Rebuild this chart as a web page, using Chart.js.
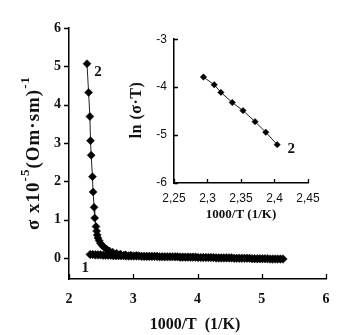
<!DOCTYPE html>
<html lang="en">
<head>
<meta charset="UTF-8">
<title>Conductivity vs 1000/T</title>
<script src="https://cdn.jsdelivr.net/npm/chart.js"></script>
<style>
  html, body { margin: 0; padding: 0; background: #fff; }
  #wrap { position: relative; width: 342px; height: 335px; }
  #mainChart { position: absolute; left: 0; top: 0; }
  #insetChart { position: absolute; left: 110px; top: 25px; }
</style>
</head>
<body>
<div id="wrap">
  <canvas id="mainChart" width="342" height="335"></canvas>
  <canvas id="insetChart" width="232" height="205"></canvas>
</div>
<script>
// curve 1: flat band, 1000/T vs sigma (x10^-5)
const curve1X = [2.33,2.37,2.41,2.45,2.49,2.53,2.57,2.61,2.65,2.69,
                 2.73,2.77,2.81,2.85,2.89,2.93,2.97,3.01,3.05,3.09,
                 3.13,3.17,3.21,3.25,3.29,3.33,3.37,3.41,3.45,3.49,
                 3.53,3.57,3.61,3.65,3.69,3.73,3.77,3.81,3.85,3.89,
                 3.93,3.97,4.01,4.05,4.09,4.13,4.17,4.21,4.25,4.29,
                 4.33,4.37,4.41,4.45,4.49,4.53,4.57,4.61,4.65,4.69,
                 4.73,4.77,4.81,4.85,4.89,4.93,4.97,5.01,5.05,5.09,
                 5.13,5.17,5.21,5.25,5.29,5.33];
const curve1Y = [0.09,0.09,0.08,0.08,0.08,0.07,0.07,0.07,0.07,0.06,
                 0.06,0.06,0.06,0.06,0.05,0.05,0.05,0.05,0.05,0.05,
                 0.04,0.04,0.04,0.04,0.04,0.04,0.04,0.03,0.03,0.03,
                 0.03,0.03,0.03,0.03,0.03,0.02,0.02,0.02,0.02,0.02,
                 0.02,0.02,0.01,0.01,0.01,0.01,0.01,0.01,0.01,0.00,
                 0.00,0.00,0.00,0.00,0.00,0.00,-0.01,-0.01,-0.01,-0.01,
                 -0.01,-0.01,-0.01,-0.02,-0.02,-0.02,-0.02,-0.02,-0.02,-0.02,
                 -0.03,-0.03,-0.03,-0.03,-0.03,-0.03];

// curve 2: steep drop then joins the band
const curve2X = [2.28,2.305,2.325,2.335,2.345,2.365,2.375,2.39,2.40,2.42,
                 2.43,2.44,2.45,2.47,2.49,2.52,2.55,2.59,2.63,2.68,
                 2.74,2.80,2.88,2.96,3.05];
const curve2Y = [5.07,4.32,3.69,3.06,2.68,2.12,1.72,1.32,1.04,0.82,
                 0.70,0.60,0.52,0.45,0.38,0.32,0.27,0.22,0.18,0.15,
                 0.12,0.10,0.08,0.07,0.06];

// inset: ln(sigma*T) for curve 2
const insetX = [2.294,2.310,2.320,2.337,2.353,2.371,2.387,2.404];
const insetY = [-3.79,-3.95,-4.11,-4.32,-4.49,-4.72,-4.94,-5.20];

const mainXTicks = [2, 3, 4, 5, 6];
const mainYTicks = [0, 1, 2, 3, 4, 5, 6];
const insetXTicks = [2.25, 2.3, 2.35, 2.4, 2.45];
const insetYTicks = [-6, -5, -4, -3];

const zip = (xs, ys) => xs.map((x, i) => ({ x: x, y: ys[i] }));

const ink = '#111';
const serifBold = (size) => ({ family: '"Liberation Serif", "DejaVu Serif", serif', size: size, weight: 'bold' });

function seriesStyle(r) {
  return {
    showLine: true,
    borderColor: '#222',
    borderWidth: 1,
    pointStyle: 'rectRot',
    pointRadius: r,
    pointBackgroundColor: '#000',
    pointBorderColor: '#000',
    pointBorderWidth: 0.5
  };
}

// tick marks drawn by hand so they can point in or out
function drawTicks(chart, xLen, yLen) {
  const { ctx, scales: { x, y } } = chart;
  ctx.save();
  ctx.strokeStyle = '#000';
  ctx.lineWidth = 1.3;
  ctx.beginPath();
  x.ticks.forEach(t => {
    const px = Math.round(x.getPixelForValue(t.value)) + 0.5;
    ctx.moveTo(px, y.bottom);
    ctx.lineTo(px, y.bottom + xLen);
  });
  y.ticks.forEach(t => {
    const py = Math.round(y.getPixelForValue(t.value)) + 0.5;
    ctx.moveTo(x.left, py);
    ctx.lineTo(x.left + yLen, py);
  });
  ctx.stroke();
  ctx.restore();
}

// rotated title with superscript parts
function drawRotatedTitle(ctx, cx, cy, parts, bigSize, smallSize, spacing) {
  ctx.save();
  ctx.translate(cx, cy);
  ctx.rotate(-Math.PI / 2);
  ctx.fillStyle = ink;
  ctx.textBaseline = 'middle';
  ctx.textAlign = 'left';
  ctx.letterSpacing = spacing || '0px';
  const fontFor = (sup) => 'bold ' + (sup ? smallSize : bigSize) + 'px "Liberation Serif", serif';
  let total = 0;
  parts.forEach(p => { ctx.font = fontFor(p[1]); total += ctx.measureText(p[0]).width; });
  let pos = -total / 2;
  parts.forEach(p => {
    ctx.font = fontFor(p[1]);
    ctx.fillText(p[0], pos, p[1] ? -8 : 0);
    pos += ctx.measureText(p[0]).width;
  });
  ctx.restore();
}

const mainDecor = {
  id: 'mainDecor',
  afterDraw(chart) {
    const { ctx, scales: { x, y } } = chart;
    drawTicks(chart, -5, -5);
    ctx.save();
    ctx.fillStyle = ink;
    ctx.textAlign = 'center';
    ctx.textBaseline = 'middle';
    ctx.font = 'bold 16px "Liberation Serif", serif';
    ctx.fillText('1000/T  (1/K)', 195, 325);
    ctx.font = 'bold 15px "Liberation Serif", serif';
    ctx.fillText('2', x.getPixelForValue(curve2X[0]) + 11, y.getPixelForValue(curve2Y[0]) + 8);
    ctx.fillText('1', x.getPixelForValue(curve1X[0]) - 5, y.getPixelForValue(curve1Y[0]) + 14);
    ctx.restore();
    drawRotatedTitle(ctx, 34, 153,
      [['σ x10', false], ['-5', true], ['(Om·sm)', false], ['-1', true]], 19, 13, '1px');
  }
};

const insetDecor = {
  id: 'insetDecor',
  afterDraw(chart) {
    const { ctx, scales: { x, y } } = chart;
    drawTicks(chart, -4, 4);
    ctx.save();
    ctx.fillStyle = ink;
    ctx.textAlign = 'center';
    ctx.textBaseline = 'middle';
    ctx.font = 'bold 13px "Liberation Serif", serif';
    ctx.fillText('1000/T (1/K)', (x.left + x.right) / 2, 190);
    ctx.font = 'bold 15px "Liberation Serif", serif';
    const last = insetX.length - 1;
    ctx.fillText('2', x.getPixelForValue(insetX[last]) + 14, y.getPixelForValue(insetY[last]) + 4);
    ctx.restore();
    drawRotatedTitle(ctx, 27, 85, [['ln (σ·T)', false]], 16, 11, '0.5px');
  }
};

new Chart(document.getElementById('mainChart'), {
  type: 'scatter',
  data: {
    datasets: [
      Object.assign({ label: '1', data: zip(curve1X, curve1Y) }, seriesStyle(4.3)),
      Object.assign({ label: '2', data: zip(curve2X, curve2Y) }, seriesStyle(4))
    ]
  },
  options: {
    responsive: false,
    animation: false,
    layout: { padding: { top: 28, right: 16, left: 0, bottom: 0 } },
    plugins: { legend: { display: false }, tooltip: { enabled: false } },
    scales: {
      x: {
        type: 'linear', min: 2, max: 6,
        afterBuildTicks: s => { s.ticks = mainXTicks.map(v => ({ value: v })); },
        afterFit: s => { s.height = 56; },
        grid: { display: false, drawTicks: false },
        border: { display: true, color: '#000', width: 1.5 },
        ticks: { color: ink, font: serifBold(14), padding: 12, maxRotation: 0 }
      },
      y: {
        type: 'linear', min: -0.55, max: 6,
        afterBuildTicks: s => { s.ticks = mainYTicks.map(v => ({ value: v })); },
        afterFit: s => { s.width = 69; },
        grid: { display: false, drawTicks: false },
        border: { display: true, color: '#000', width: 1.5 },
        ticks: { color: ink, font: serifBold(14), padding: 8 }
      }
    }
  },
  plugins: [mainDecor]
});

new Chart(document.getElementById('insetChart'), {
  type: 'scatter',
  data: {
    datasets: [
      Object.assign({ label: '2', data: zip(insetX, insetY) }, seriesStyle(3.2))
    ]
  },
  options: {
    responsive: false,
    animation: false,
    layout: { padding: { top: 14, right: 34, left: 0, bottom: 0 } },
    plugins: { legend: { display: false }, tooltip: { enabled: false } },
    scales: {
      x: {
        type: 'linear', min: 2.25, max: 2.45,
        afterBuildTicks: s => { s.ticks = insetXTicks.map(v => ({ value: v })); },
        afterFit: s => { s.height = 47; },
        grid: { display: false, drawTicks: false },
        border: { display: true, color: '#000', width: 1.5 },
        ticks: {
          color: ink, padding: 8, maxRotation: 0,
          font: { family: '"Liberation Sans", sans-serif', size: 12 },
          callback: v => String(v).replace('.', ',')
        }
      },
      y: {
        type: 'linear', min: -6, max: -3,
        afterBuildTicks: s => { s.ticks = insetYTicks.map(v => ({ value: v })); },
        afterFit: s => { s.width = 64; },
        grid: { display: false, drawTicks: false },
        border: { display: true, color: '#000', width: 1.5 },
        ticks: {
          color: ink, padding: 7,
          font: { family: '"Liberation Sans", sans-serif', size: 12 }
        }
      }
    }
  },
  plugins: [insetDecor]
});
</script>
</body>
</html>
